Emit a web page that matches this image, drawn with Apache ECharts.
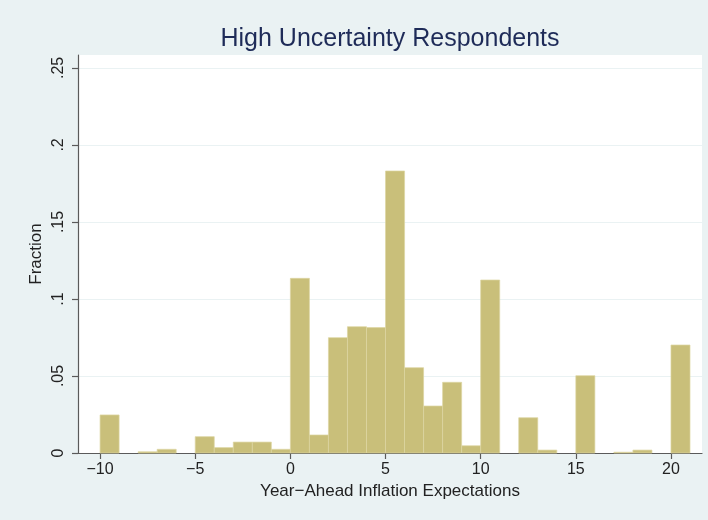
<!DOCTYPE html>
<html>
<head>
<meta charset="utf-8">
<script src="https://cdn.jsdelivr.net/npm/echarts@6/dist/echarts.min.js"></script>
<style>
html,body{margin:0;padding:0;background:#eaf2f3;}
#chart{width:708px;height:520px;}
</style>
</head>
<body>
<div id="chart"></div>
<script>
// Histogram bins (width 1) starting at these values
const binStarts = [-10,-9,-8,-7,-6,-5,-4,-3,-2,-1,0,1,2,3,4,5,6,7,8,9,10,11,12,13,14,15,16,17,18,19,20];
const binWidth = 1;
const fractions = [0.0247,0,0.0008,0.0024,0,0.0106,0.0035,0.0071,0.0071,0.0024,
                   0.1134,0.0117,0.0749,0.0820,0.0814,0.1831,0.0554,0.0305,0.0459,0.0047,
                   0.1123,0,0.0229,0.0019,0,0.0502,0,0.0005,0.0019,0,0.0701];
const xTicks = [-10,-5,0,5,10,15,20];
const yTicks = [0,0.05,0.1,0.15,0.2,0.25];

const titleText = 'High Uncertainty Respondents';
const xTitle = 'Year\u2212Ahead Inflation Expectations';
const yTitle = 'Fraction';

const FONT = '"Liberation Sans", Arial, Helvetica, sans-serif';
const barFill = '#c9bf7a';
const barEdge = '#ddd6a2';

const data = binStarts.map((s, i) => [s, s + binWidth, fractions[i]]);

const chart = echarts.init(document.getElementById('chart'), null, {renderer: 'canvas'});
chart.setOption({
  backgroundColor: '#eaf2f3',
  animation: false,
  title: {
    text: titleText,
    left: 390,
    top: 27,
    padding: 0,
    textAlign: 'center',
    textStyle: {fontFamily: FONT, fontSize: 25, fontWeight: 'normal', color: '#1e2b58'}
  },
  grid: {
    left: 78, right: 6, top: 55, bottom: 67,
    show: true, backgroundColor: '#ffffff', borderWidth: 0
  },
  xAxis: {
    type: 'value',
    min: -11.16, max: 21.63,
    axisLine: {show: true, onZero: false, lineStyle: {color: '#5a5a5a', width: 1.2}},
    axisTick: {show: true, length: 6, customValues: xTicks, lineStyle: {color: '#5a5a5a', width: 1.2}},
    axisLabel: {
      customValues: xTicks, fontFamily: FONT, fontSize: 16, color: '#222', margin: 9,
      formatter: v => (v < 0 ? '\u2212' + Math.abs(v) : String(v))
    },
    splitLine: {show: false},
    name: xTitle,
    nameLocation: 'middle',
    nameGap: 30,
    nameTextStyle: {fontFamily: FONT, fontSize: 17, color: '#222'}
  },
  yAxis: {
    type: 'value',
    min: 0, max: 0.2584,
    interval: 0.05,
    axisLine: {show: true, onZero: false, lineStyle: {color: '#5a5a5a', width: 1.2}},
    axisTick: {show: true, length: 6, customValues: yTicks, lineStyle: {color: '#5a5a5a', width: 1.2}},
    axisLabel: {
      customValues: yTicks, rotate: 90, fontFamily: FONT, fontSize: 16, color: '#222', margin: 11,
      formatter: v => (v === 0 ? '0' : String(+v.toFixed(2)).replace(/^0/, ''))
    },
    splitLine: {show: true, lineStyle: {color: '#eaf2f3', width: 1}},
    name: yTitle,
    nameLocation: 'middle',
    nameGap: 33,
    nameMoveOverlap: false,
    nameRotate: 90,
    nameTextStyle: {fontFamily: FONT, fontSize: 17, color: '#222'}
  },
  series: [{
    type: 'custom',
    data: data,
    encode: {x: [0, 1], y: 2},
    renderItem: function (params, api) {
      const x0 = api.value(0), x1 = api.value(1), v = api.value(2);
      if (!v) return null;
      const pTop = api.coord([x0, v]);
      const pBot = api.coord([x1, 0]);
      return {
        type: 'rect',
        shape: {x: pTop[0], y: pTop[1], width: pBot[0] - pTop[0], height: pBot[1] - pTop[1]},
        style: {fill: barFill, stroke: barEdge, lineWidth: 0.7}
      };
    }
  }]
});
</script>
</body>
</html>
